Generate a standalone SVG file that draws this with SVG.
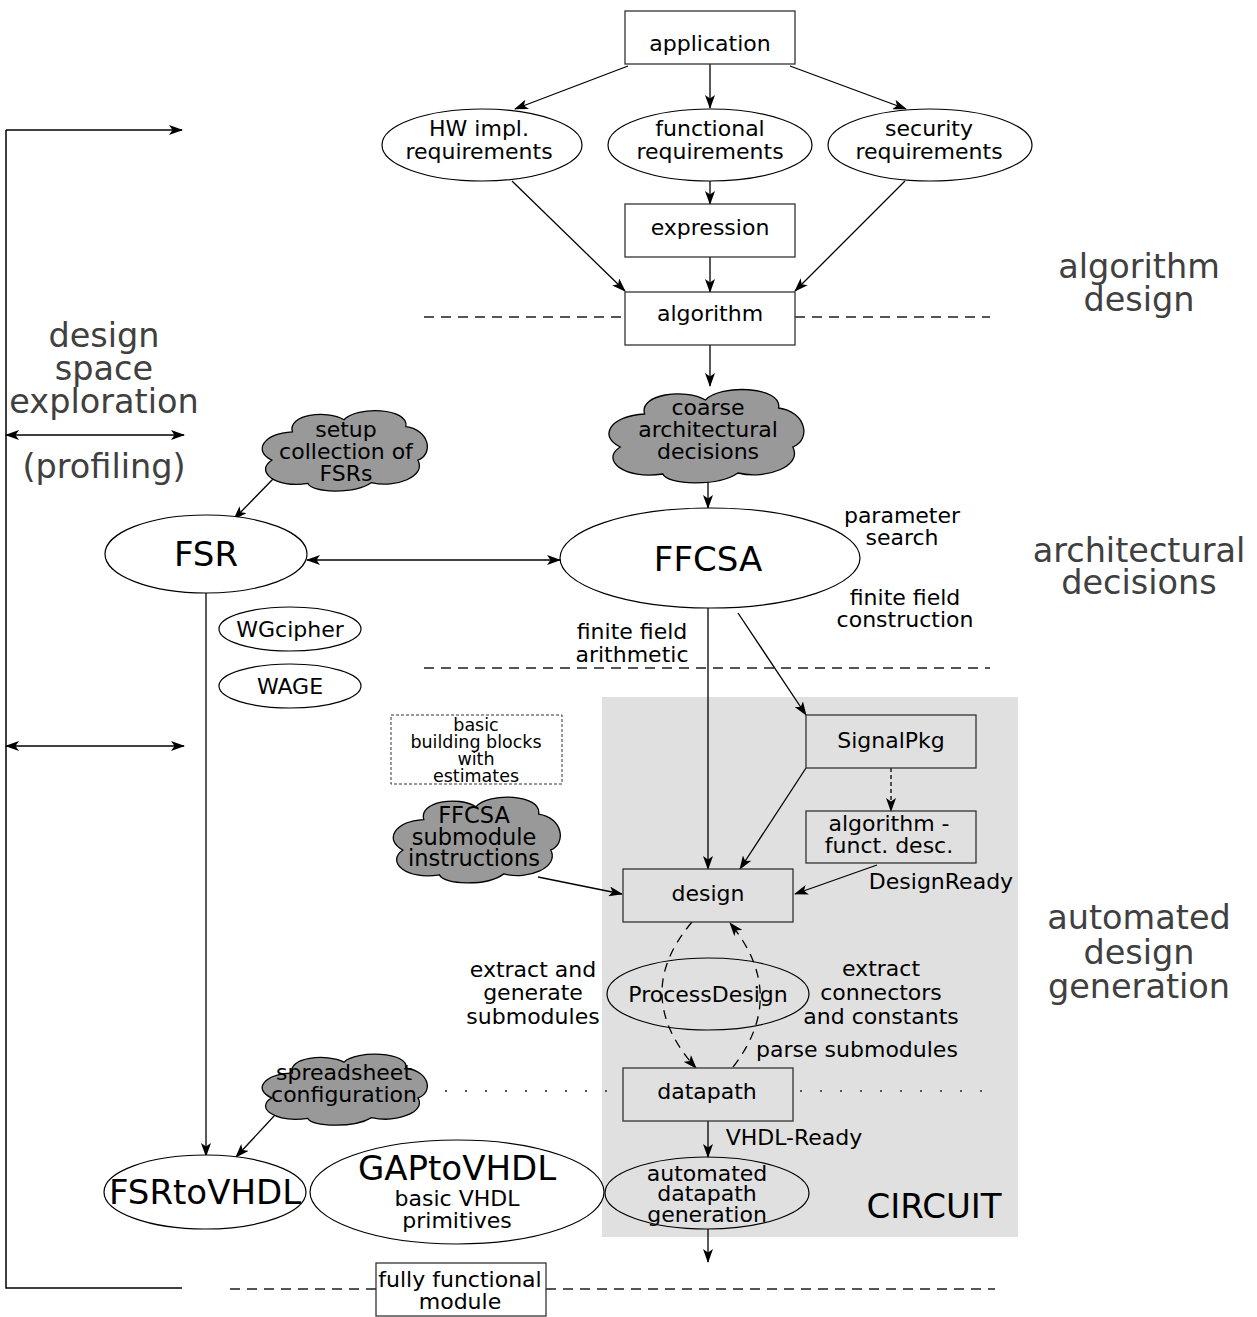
<svg xmlns="http://www.w3.org/2000/svg" xmlns:xlink="http://www.w3.org/1999/xlink" width="1257" height="1317" viewBox="0 0 1257 1317">
  <style>
    text { font-family: "DejaVu Sans", "Liberation Sans", sans-serif; fill: #000; text-anchor: middle; }
    .box { fill: #fff; stroke: #333; stroke-width: 1.3; }
    .gbox { fill: #e0e0e0; stroke: #333; stroke-width: 1.3; }
    .ell { fill: #fff; stroke: #000; stroke-width: 1.2; }
    .ellg { fill: none; stroke: #000; stroke-width: 1.2; }
    .cloud { fill: #999; stroke: #000; stroke-width: 1.3; }
    .edge { fill: none; stroke: #000; stroke-width: 1.3; marker-end: url(#arr); }
    .dbl { fill: none; stroke: #000; stroke-width: 1.5; marker-end: url(#arr); marker-start: url(#arr); }
    .sep { fill: none; stroke: #555; stroke-width: 2; stroke-dasharray: 10 7; }
    .dots { fill: none; stroke: #555; stroke-width: 2; stroke-dasharray: 2 18; }
    .phase { fill: #404040; font-size: 33.5px; }
    .t20 { font-size: 22px; }
    .t32 { font-size: 34px; }
  </style>
  <defs>
    <marker id="arr" viewBox="0 0 14 10" refX="13" refY="5" markerWidth="14" markerHeight="10" orient="auto-start-reverse" markerUnits="userSpaceOnUse">
      <path d="M0,0 L14,5 L0,10 L3.5,5 Z" fill="#000"/>
    </marker>
    <path id="cloudShape" d="M 20,30 C 17,10 40,4 50,16 C 57,0 88,2 86,24 C 100,28 102,56 93,63 C 98,82 80,96 66,89 C 56,103 31,101 29,90 C 10,96 -2,76 8,63 C -3,52 3,32 20,30 Z" vector-effect="non-scaling-stroke"/>
  </defs>

  <!-- circuit region background -->
  <rect x="602" y="697" width="416" height="540" fill="#e0e0e0"/>
  <text x="934" y="1218" class="t32">CIRCUIT</text>

  <!-- phase separators -->
  <g id="separators">
    <line class="sep" x1="424" y1="317" x2="625" y2="317"/>
    <line class="sep" x1="795" y1="317" x2="990" y2="317"/>
    <line class="sep" x1="424" y1="668" x2="990" y2="668"/>
    <line class="dots" x1="445" y1="1091" x2="623" y2="1091"/>
    <line class="dots" x1="800" y1="1091" x2="990" y2="1091"/>
    <line class="sep" x1="230" y1="1289" x2="376" y2="1289"/>
    <line class="sep" x1="546" y1="1289" x2="995" y2="1289"/>
  </g>

  <!-- phase labels -->
  <g id="phase-labels">
    <text class="phase" x="104" y="347">design</text>
    <text class="phase" x="104" y="380">space</text>
    <text class="phase" x="104" y="413">exploration</text>
    <text class="phase" x="104" y="478">(profiling)</text>
    <text class="phase" x="1139" y="278">algorithm</text>
    <text class="phase" x="1139" y="311">design</text>
    <text class="phase" x="1139" y="562">architectural</text>
    <text class="phase" x="1139" y="594">decisions</text>
    <text class="phase" x="1139" y="929">automated</text>
    <text class="phase" x="1139" y="964">design</text>
    <text class="phase" x="1139" y="998">generation</text>
  </g>

  <!-- connectors -->
  <g id="connectors">
    <line class="edge" x1="628" y1="66" x2="515" y2="109"/>
    <line class="edge" x1="710" y1="64" x2="710" y2="108"/>
    <line class="edge" x1="790" y1="66" x2="906" y2="109"/>
    <line class="edge" x1="512" y1="181" x2="625" y2="291"/>
    <line class="edge" x1="710" y1="181" x2="710" y2="204"/>
    <line class="edge" x1="905" y1="181" x2="795" y2="291"/>
    <line class="edge" x1="710" y1="257" x2="710" y2="292"/>
    <line class="edge" x1="710" y1="345" x2="710" y2="386"/>
    <line class="edge" x1="708" y1="475" x2="708" y2="508"/>
    <line class="edge" x1="275" y1="477" x2="234" y2="519"/>
    <line class="dbl" x1="307" y1="560" x2="560" y2="560"/>
    <line class="edge" x1="206" y1="593" x2="206" y2="1156"/>
    <line class="edge" x1="708" y1="608" x2="708" y2="869"/>
    <line class="edge" x1="738" y1="613" x2="806" y2="715"/>
    <line class="edge" x1="891" y1="768" x2="891" y2="811" stroke-dasharray="4 3"/>
    <line class="edge" x1="806" y1="768" x2="740" y2="869"/>
    <line class="edge" x1="877" y1="865" x2="795" y2="894"/>
    <line class="edge" x1="538" y1="877" x2="622" y2="894"/>
    <path class="edge" d="M 692,922 Q 630,995 696,1068" stroke-dasharray="9 7"/>
    <path class="edge" d="M 733,1067 Q 789,995 730,923" stroke-dasharray="9 7"/>
    <line class="edge" x1="708" y1="1121" x2="708" y2="1157"/>
    <line class="edge" x1="275" y1="1115" x2="236" y2="1157"/>
    <line class="edge" x1="708" y1="1229" x2="708" y2="1262"/>
    <!-- design space exploration bracket -->
    <polyline fill="none" stroke="#000" stroke-width="1.5" points="182,1288 6,1288 6,130"/>
    <line class="edge" stroke-width="1.5" x1="6" y1="130" x2="182" y2="130"/>
    <line class="dbl" x1="6" y1="435" x2="184" y2="435"/>
    <line class="dbl" x1="6" y1="746" x2="184" y2="746"/>
  </g>

  <!-- edge labels -->
  <g id="edge-labels">
    <text class="t20" x="902" y="523">parameter</text>
    <text class="t20" x="902" y="545">search</text>
    <text class="t20" x="905" y="605">finite field</text>
    <text class="t20" x="905" y="627">construction</text>
    <text class="t20" x="632" y="639">finite field</text>
    <text class="t20" x="632" y="662">arithmetic</text>
    <text class="t20" x="941" y="889">DesignReady</text>
    <text class="t20" x="533" y="977">extract and</text>
    <text class="t20" x="533" y="1000">generate</text>
    <text class="t20" x="533" y="1024">submodules</text>
    <text class="t20" x="881" y="976">extract</text>
    <text class="t20" x="881" y="1000">connectors</text>
    <text class="t20" x="881" y="1024">and constants</text>
    <text class="t20" x="857" y="1057">parse submodules</text>
    <text class="t20" x="794" y="1145">VHDL-Ready</text>
  </g>

  <g id="application">
    <rect class="box" x="625" y="11" width="170" height="53"/>
    <text class="t20" x="710" y="51">application</text>
  </g>
  <g id="hw-requirements">
    <ellipse class="ell" cx="482" cy="145" rx="100" ry="36"/>
    <text class="t20" x="479" y="136">HW impl.</text>
    <text class="t20" x="479" y="159">requirements</text>
  </g>
  <g id="functional-requirements">
    <ellipse class="ell" cx="710" cy="145" rx="102" ry="36"/>
    <text class="t20" x="710" y="136">functional</text>
    <text class="t20" x="710" y="159">requirements</text>
  </g>
  <g id="security-requirements">
    <ellipse class="ell" cx="930" cy="145" rx="102" ry="36"/>
    <text class="t20" x="929" y="136">security</text>
    <text class="t20" x="929" y="159">requirements</text>
  </g>
  <g id="expression">
    <rect class="box" x="625" y="204" width="170" height="53"/>
    <text class="t20" x="710" y="235">expression</text>
  </g>
  <g id="algorithm">
    <rect class="box" x="625" y="292" width="170" height="53"/>
    <text class="t20" x="710" y="321">algorithm</text>
  </g>
  <g id="coarse-decisions">
    <use xlink:href="#cloudShape" class="cloud" transform="translate(604,384) scale(2.03,1.0)"/>
    <text class="t20" x="708" y="415">coarse</text>
    <text class="t20" x="708" y="437">architectural</text>
    <text class="t20" x="708" y="459">decisions</text>
  </g>
  <g id="setup-fsrs">
    <use xlink:href="#cloudShape" class="cloud" transform="translate(258,406) scale(1.72,0.86)"/>
    <text class="t20" x="346" y="437">setup</text>
    <text class="t20" x="346" y="459">collection of</text>
    <text class="t20" x="346" y="481">FSRs</text>
  </g>
  <g id="fsr">
    <ellipse class="ell" cx="206" cy="554" rx="101" ry="39"/>
    <text class="t32" x="206" y="566">FSR</text>
  </g>
  <g id="ffcsa">
    <ellipse class="ell" cx="710" cy="558" rx="150" ry="50" stroke-width="1.5"/>
    <text class="t32" x="708" y="571">FFCSA</text>
  </g>
  <g id="wgcipher">
    <ellipse class="ell" cx="290" cy="629" rx="71" ry="22"/>
    <text class="t20" x="290" y="637">WGcipher</text>
  </g>
  <g id="wage">
    <ellipse class="ell" cx="290" cy="686" rx="71" ry="22"/>
    <text class="t20" x="290" y="694">WAGE</text>
  </g>
  <g id="building-blocks">
    <rect x="391" y="715" width="171" height="69" fill="#fff" stroke="#333" stroke-width="1" stroke-dasharray="3 2"/>
    <text x="476" y="731" font-size="17.5">basic</text>
    <text x="476" y="748" font-size="17.5">building blocks</text>
    <text x="476" y="765" font-size="17.5">with</text>
    <text x="476" y="782" font-size="17.5">estimates</text>
  </g>
  <g id="submodule-instructions">
    <use xlink:href="#cloudShape" class="cloud" transform="translate(389,792) scale(1.74,0.92)"/>
    <text x="474" y="823" font-size="22.5">FFCSA</text>
    <text x="474" y="845" font-size="22.5">submodule</text>
    <text x="474" y="866" font-size="22.5">instructions</text>
  </g>
  <g id="signalpkg">
    <rect class="gbox" x="806" y="715" width="170" height="53"/>
    <text class="t20" x="891" y="748">SignalPkg</text>
  </g>
  <g id="funct-desc">
    <rect class="gbox" x="806" y="811" width="170" height="52"/>
    <text class="t20" x="889" y="831">algorithm -</text>
    <text class="t20" x="889" y="853">funct. desc.</text>
  </g>
  <g id="design">
    <rect class="gbox" x="623" y="869" width="170" height="53"/>
    <text class="t20" x="708" y="901">design</text>
  </g>
  <g id="process-design">
    <ellipse class="ellg" cx="708" cy="994" rx="101" ry="36"/>
    <text class="t20" x="708" y="1002">ProcessDesign</text>
  </g>
  <g id="datapath">
    <rect class="gbox" x="623" y="1068" width="170" height="53"/>
    <text class="t20" x="707" y="1099">datapath</text>
  </g>
  <g id="spreadsheet">
    <use xlink:href="#cloudShape" class="cloud" transform="translate(258,1050) scale(1.72,0.76)"/>
    <text class="t20" x="344" y="1080">spreadsheet</text>
    <text class="t20" x="344" y="1102">configuration</text>
  </g>
  <g id="fsrtovhdl">
    <ellipse class="ell" cx="205" cy="1192" rx="101" ry="37"/>
    <text class="t32" x="205" y="1204">FSRtoVHDL</text>
  </g>
  <g id="gaptovhdl">
    <ellipse class="ell" cx="457" cy="1192" rx="147" ry="52" stroke-width="1.8"/>
    <text class="t32" x="457" y="1180">GAPtoVHDL</text>
    <text class="t20" x="457" y="1206">basic VHDL</text>
    <text class="t20" x="457" y="1228">primitives</text>
  </g>
  <g id="datapath-generation">
    <ellipse class="ellg" cx="707" cy="1193" rx="102" ry="36"/>
    <text class="t20" x="707" y="1181">automated</text>
    <text class="t20" x="707" y="1201">datapath</text>
    <text class="t20" x="707" y="1222">generation</text>
  </g>
  <g id="functional-module">
    <rect class="box" x="376" y="1263" width="170" height="53"/>
    <text class="t20" x="460" y="1287">fully functional</text>
    <text class="t20" x="460" y="1309">module</text>
  </g>
</svg>
